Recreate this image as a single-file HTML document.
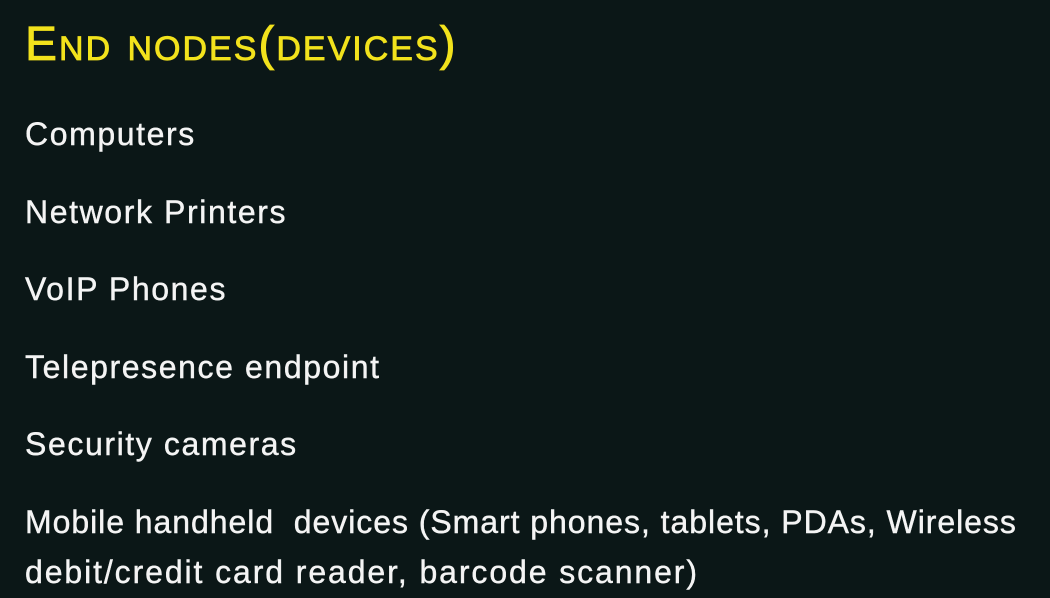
<!DOCTYPE html>
<html><head><style>
body{margin:0;width:1050px;height:598px;background:#0b1717;overflow:hidden;font-family:"Liberation Sans",sans-serif;}
div{position:absolute;left:25px;color:#f4f4f4;font-size:32px;white-space:nowrap;line-height:1;letter-spacing:1.6px;-webkit-text-stroke:0.4px #f4f4f4;}
.t{color:#f2e21c;font-size:48px;font-variant:small-caps;top:21px;letter-spacing:2px;-webkit-text-stroke:0.8px #f2e21c;}
</style></head><body>
<div class="t">End nodes(devices)</div>
<div style="top:118px">Computers</div>
<div style="top:196px">Network Printers</div>
<div style="top:273px">VoIP Phones</div>
<div style="top:351px">Telepresence endpoint</div>
<div style="top:428px">Security cameras</div>
<div style="top:506px;letter-spacing:0.95px">Mobile handheld&nbsp; devices (Smart phones, tablets, PDAs, Wireless</div>
<div style="top:556px;letter-spacing:1.9px">debit/credit card reader, barcode scanner)</div>
</body></html>
